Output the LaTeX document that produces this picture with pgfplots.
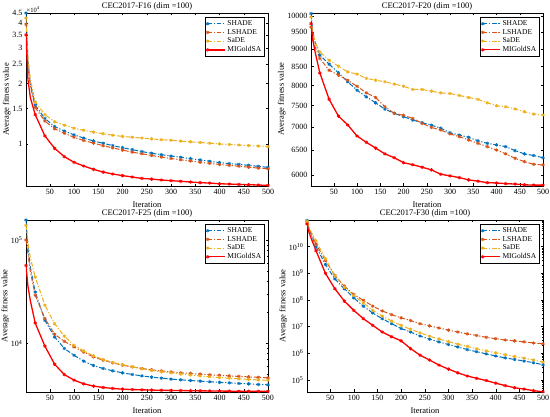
\documentclass[border=0pt]{standalone}
\usepackage{fontspec}
\setmainfont{Liberation Serif}
\usepackage{pgfplots}
\usepackage{pgfplotstable}
\pgfplotsset{compat=1.18}

\definecolor{cSH}{rgb}{0,0.447,0.741}
\definecolor{cLS}{rgb}{0.85,0.325,0.098}
\definecolor{cSa}{rgb}{0.929,0.694,0.125}
\definecolor{cMI}{rgb}{1,0,0}

\pgfplotstableread{
x sh ls sa mi
1 45000 39500 42500 35000
5 26000 25000 27000 21000
10 20000 19500 21000 17000
20 15600 15200 16200 14000
40 13400 13000 14000 10960
60 12200 11900 12900 9510
80 11600 11300 12400 8640
100 11100 10800 11980 8100
120 10700 10400 11700 7760
140 10350 10100 11450 7470
160 10080 9800 11250 7240
180 9810 9550 11050 7080
200 9580 9320 10900 6950
220 9370 9100 10800 6840
240 9160 8930 10700 6730
260 8980 8760 10600 6680
280 8840 8600 10500 6610
300 8710 8460 10430 6560
320 8580 8340 10330 6510
340 8450 8220 10250 6460
360 8320 8100 10170 6410
380 8190 8000 10080 6380
400 8070 7900 10000 6330
420 7980 7820 9940 6310
440 7910 7740 9880 6280
460 7820 7660 9820 6260
480 7730 7580 9760 6240
500 7640 7520 9700 6210
}\tabA

\pgfplotstableread{
x sh ls sa mi
1 10080 9650 9970 9760
5 9500 9300 9450 9250
10 9200 9050 9200 8900
20 8820 8725 8910 8330
40 8567 8400 8676 7650
60 8330 8268 8509 7250
80 8094 8134 8356 7045
100 7878 7980 8297 6800
120 7711 7812 8183 6662
140 7566 7697 8134 6540
160 7411 7471 8094 6420
180 7315 7315 8035 6341
200 7236 7266 7980 6240
220 7157 7195 7897 6200
240 7097 7080 7897 6150
260 7040 6990 7854 6097
280 6973 6931 7812 6013
300 6871 6844 7796 5981
320 6820 6785 7746 5948
340 6770 6713 7697 5904
360 6697 6641 7650 5880
380 6641 6571 7566 5852
400 6607 6500 7495 5846
420 6571 6420 7471 5833
440 6486 6329 7417 5826
460 6420 6262 7352 5812
480 6385 6208 7296 5806
500 6341 6195 7274 5806
}\tabB

\pgfplotstableread{
x sh ls sa mi
1 158000 101000 140000 57200
5 85000 75000 95000 36000
10 55000 50000 68000 26000
20 31600 29400 44100 15800
40 16800 17500 23500 9430
60 11600 12300 15600 6300
80 8960 10500 11800 5000
100 7700 9290 9600 4420
120 6750 8250 8500 4070
140 6120 7430 7600 3870
160 5730 6900 7000 3750
180 5440 6500 6550 3670
200 5200 6170 6250 3610
220 5010 5940 5950 3580
240 4860 5730 5700 3560
260 4720 5560 5480 3540
280 4620 5430 5320 3520
300 4520 5320 5200 3510
320 4450 5200 5060 3500
340 4380 5130 4950 3490
360 4320 5050 4850 3480
380 4260 4970 4760 3470
400 4200 4920 4680 3460
420 4160 4860 4610 3455
440 4100 4800 4550 3450
460 4070 4750 4490 3445
480 4010 4700 4440 3440
500 3980 4650 4400 3435
}\tabC

\pgfplotstableread{
x sh ls sa mi
1 9.55e10 8.13e10 8.91e10 7.08e10
5 5.01e10 5.01e10 5.62e10 3.55e10
10 2.82e10 3.16e10 3.55e10 2.0e10
20 1.0e10 1.26e10 1.66e10 7.08e9
40 2.14e9 3.02e9 3.47e9 1.0e9
60 6.17e8 8.32e8 8.32e8 2.63e8
80 2.63e8 3.31e8 3.02e8 9.12e7
100 1.2e8 1.62e8 1.48e8 4.07e7
120 5.89e7 9.77e7 7.76e7 2.0e7
140 3.24e7 5.89e7 4.07e7 1.12e7
160 2.0e7 3.89e7 2.51e7 6.31e6
180 1.29e7 2.82e7 1.62e7 4.17e6
200 8.51e6 2.14e7 1.12e7 2.95e6
220 6.31e6 1.70e7 7.94e6 1.51e6
240 4.47e6 1.29e7 5.89e6 8.51e5
260 3.39e6 1.07e7 4.37e6 5.62e5
280 2.69e6 8.91e6 3.47e6 3.63e5
300 2.14e6 7.41e6 2.75e6 2.57e5
320 1.74e6 6.31e6 2.19e6 1.86e5
340 1.38e6 5.37e6 1.82e6 1.41e5
360 1.15e6 4.68e6 1.48e6 1.15e5
380 9.55e5 3.98e6 1.23e6 9.55e4
400 7.94e5 3.55e6 1.05e6 7.59e4
420 6.76e5 3.16e6 8.91e5 6.17e4
440 5.89e5 2.95e6 7.59e5 5.13e4
460 5.13e5 2.69e6 6.61e5 4.57e4
480 4.47e5 2.45e6 5.62e5 3.98e4
500 3.72e5 2.29e6 4.68e5 3.63e4
}\tabD

\pgfplotsset{
  myPanel/.style={
    scale only axis,
    xmin=1, xmax=500,
    xtick={50,100,150,200,250,300,350,400,450,500},
    tick align=inside,
    axis line style={line width=0.6pt},
    major tick length=2.5pt, minor tick length=1.4pt,
    every tick/.style={black, line width=0.4pt},
    tick label style={font=\fontsize{8}{8.5}\selectfont},
    label style={font=\fontsize{8.5}{9}\selectfont},
    title style={font=\fontsize{8.5}{9}\selectfont, yshift=-7pt},
    xlabel={Iteration},
    ylabel={Average fitness value},
    xlabel style={yshift=-0.5pt},
    ylabel style={yshift=-5pt},
    legend style={at={(0.985,0.975)}, anchor=north east,
      font=\fontsize{7.5}{8}\selectfont, draw=black, line width=0.4pt,
      inner sep=1pt, row sep=-1.8pt},
    legend cell align=left,
    /pgf/number format/assume math mode=true,
    /pgf/number format/1000 sep={},
  },
}
\tikzset{
  myDD/.style={dash pattern=on 4.5pt off 1.8pt on 1.2pt off 1.8pt},
  myMk/.style={mark=asterisk, mark size=1.7pt, mark options={solid, line width=0.8pt}},
  stSH/.style={color=cSH, myDD, line width=1pt, myMk},
  stLS/.style={color=cLS, myDD, line width=1pt, myMk},
  stSA/.style={color=cSa, myDD, line width=1pt, myMk},
  stMI/.style={color=cMI, solid, line width=1.3pt, myMk},
}

\begin{document}
\begin{tikzpicture}
\useasboundingbox (0,0) rectangle (550pt,417pt);

% F16
\begin{axis}[myPanel, ymode=log, name=a1, at={(26pt,231pt)}, anchor=south west,
  width=242pt, height=173pt,
  ymin=6170, ymax=45000,
  ytick={10000,15000,20000,25000,30000,35000,40000,45000},
  yticklabels={1,1.5,2,2.5,3,3.5,4,4.5},
  title={CEC2017-F16 (dim =100)}]
\addplot[stSH, mark indices={1,4,5,6,7,8,9,10,11,12,13,14,15,16,17,18,19,20,21,22,23,24,25,26,27,28}] table[x=x,y=sh]{\tabA};
\addplot[stLS, mark indices={1,4,5,6,7,8,9,10,11,12,13,14,15,16,17,18,19,20,21,22,23,24,25,26,27,28}] table[x=x,y=ls]{\tabA};
\addplot[stSA, mark indices={1,4,5,6,7,8,9,10,11,12,13,14,15,16,17,18,19,20,21,22,23,24,25,26,27,28}] table[x=x,y=sa]{\tabA};
\addplot[stMI, mark indices={1,4,5,6,7,8,9,10,11,12,13,14,15,16,17,18,19,20,21,22,23,24,25,26,27,28}] table[x=x,y=mi]{\tabA};
\legend{SHADE,LSHADE,SaDE,MIGoldSA}
\end{axis}
\node[anchor=south west, inner sep=0.5pt, font=\fontsize{6.5}{7}\selectfont] at (a1.north west) {×10\textsuperscript{4}};

% F20
\begin{axis}[myPanel, ymode=log, at={(311pt,231pt)}, anchor=south west,
  width=232pt, height=173pt,
  ymin=5790, ymax=10100,
  ytick={6000,6500,7000,7500,8000,8500,9000,9500,10000},
  yticklabels={6000,6500,7000,7500,8000,8500,9000,9500,10000},
  title={CEC2017-F20 (dim =100)}]
\addplot[stSH, mark indices={1,4,5,6,7,8,9,10,11,12,13,14,15,16,17,18,19,20,21,22,23,24,25,26,27,28}] table[x=x,y=sh]{\tabB};
\addplot[stLS, mark indices={1,4,5,6,7,8,9,10,11,12,13,14,15,16,17,18,19,20,21,22,23,24,25,26,27,28}] table[x=x,y=ls]{\tabB};
\addplot[stSA, mark indices={1,4,5,6,7,8,9,10,11,12,13,14,15,16,17,18,19,20,21,22,23,24,25,26,27,28}] table[x=x,y=sa]{\tabB};
\addplot[stMI, mark indices={1,4,5,6,7,8,9,10,11,12,13,14,15,16,17,18,19,20,21,22,23,24,25,26,27,28}] table[x=x,y=mi]{\tabB};
\legend{SHADE,LSHADE,SaDE,MIGoldSA}
\end{axis}

% F25
\begin{axis}[myPanel, ymode=log, at={(26pt,25pt)}, anchor=south west,
  width=242pt, height=172pt,
  ymin=3390, ymax=158000,
  ytick={10000,100000},
  yticklabels={10\textsuperscript{4},10\textsuperscript{5}},
  minor ytick={4000,5000,6000,7000,8000,9000,20000,30000,40000,50000,60000,70000,80000,90000},
  title={CEC2017-F25 (dim =100)}]
\addplot[stSH, mark indices={1,4,5,6,7,8,9,10,11,12,13,14,15,16,17,18,19,20,21,22,23,24,25,26,27,28}] table[x=x,y=sh]{\tabC};
\addplot[stLS, mark indices={1,4,5,6,7,8,9,10,11,12,13,14,15,16,17,18,19,20,21,22,23,24,25,26,27,28}] table[x=x,y=ls]{\tabC};
\addplot[stSA, mark indices={1,4,5,6,7,8,9,10,11,12,13,14,15,16,17,18,19,20,21,22,23,24,25,26,27,28}] table[x=x,y=sa]{\tabC};
\addplot[stMI, mark indices={1,4,5,6,7,8,9,10,11,12,13,14,15,16,17,18,19,20,21,22,23,24,25,26,27,28}] table[x=x,y=mi]{\tabC};
\legend{SHADE,LSHADE,SaDE,MIGoldSA}
\end{axis}

% F30
\begin{axis}[myPanel, ymode=log, at={(307pt,25pt)}, anchor=south west,
  width=236pt, height=172pt,
  ymin=35500, ymax=1e11,
  ytick={1e5,1e6,1e7,1e8,1e9,1e10},
  yticklabels={10\textsuperscript{5},10\textsuperscript{6},10\textsuperscript{7},10\textsuperscript{8},10\textsuperscript{9},10\textsuperscript{10}},
  minor ytick={4e4,5e4,6e4,7e4,8e4,9e4,2e5,3e5,4e5,5e5,6e5,7e5,8e5,9e5,2e6,3e6,4e6,5e6,6e6,7e6,8e6,9e6,2e7,3e7,4e7,5e7,6e7,7e7,8e7,9e7,2e8,3e8,4e8,5e8,6e8,7e8,8e8,9e8,2e9,3e9,4e9,5e9,6e9,7e9,8e9,9e9,2e10,3e10,4e10,5e10,6e10,7e10,8e10,9e10},
  title={CEC2017-F30 (dim =100)}]
\addplot[stSH, mark indices={1,4,5,6,7,8,9,10,11,12,13,14,15,16,17,18,19,20,21,22,23,24,25,26,27,28}] table[x=x,y=sh]{\tabD};
\addplot[stLS, mark indices={1,4,5,6,7,8,9,10,11,12,13,14,15,16,17,18,19,20,21,22,23,24,25,26,27,28}] table[x=x,y=ls]{\tabD};
\addplot[stSA, mark indices={1,4,5,6,7,8,9,10,11,12,13,14,15,16,17,18,19,20,21,22,23,24,25,26,27,28}] table[x=x,y=sa]{\tabD};
\addplot[stMI, mark indices={1,4,5,6,7,8,9,10,11,12,13,14,15,16,17,18,19,20,21,22,23,24,25,26,27,28}] table[x=x,y=mi]{\tabD};
\legend{SHADE,LSHADE,SaDE,MIGoldSA}
\end{axis}
\end{tikzpicture}
\end{document}
